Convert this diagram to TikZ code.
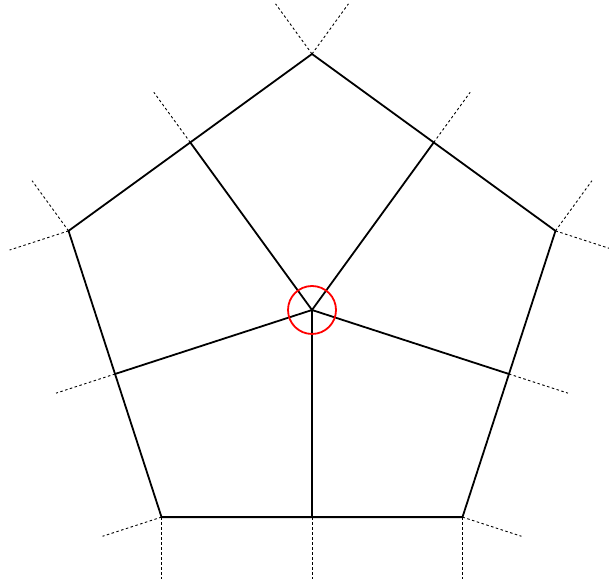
\documentclass[tikz,border=0pt]{standalone}
\usetikzlibrary{calc}
\tikzset{
  edge/.style={line width=1.8pt, line join=miter},
  ext/.style={line width=0.9pt, dash pattern=on 2.5pt off 2.5pt},
  mark circle/.style={red, line width=1.8pt}
}
\begin{document}
\begin{tikzpicture}[x=1pt,y=1pt]
\useasboundingbox (0,0) rectangle (609,585);
\coordinate (C) at (312,275);
\def\R{256}
\def\A{207.1}
\def\L{62}
% vertices
\foreach \i/\ang in {0/90,1/162,2/234,3/306,4/18}{
  \coordinate (V\i) at ($(C)+(\ang:\R)$);
}
% edge midpoints (edge between V\i and V\i+1), normals
\foreach \i/\ang in {0/126,1/198,2/270,3/342,4/54}{
  \coordinate (M\i) at ($(C)+(\ang:\A)$);
  \coordinate (EM\i) at ($(M\i)+(\ang:\L)$);
}
% vertex extensions along normals of both adjacent edges
\foreach \i/\a/\b in {0/54/126,1/126/198,2/198/270,3/270/342,4/342/54}{
  \coordinate (EA\i) at ($(V\i)+(\a:\L)$);
  \coordinate (EB\i) at ($(V\i)+(\b:\L)$);
}
\foreach \i in {0,...,4}{
  \draw[ext] (V\i) -- (EA\i);
  \draw[ext] (V\i) -- (EB\i);
  \draw[ext] (M\i) -- (EM\i);
}
\draw[edge] (V0) -- (V1) -- (V2) -- (V3) -- (V4) -- cycle;
\foreach \i in {0,...,4}{
  \draw[edge] (C) -- (M\i);
}
\draw[mark circle] (C) circle (24);
\end{tikzpicture}
\end{document}
